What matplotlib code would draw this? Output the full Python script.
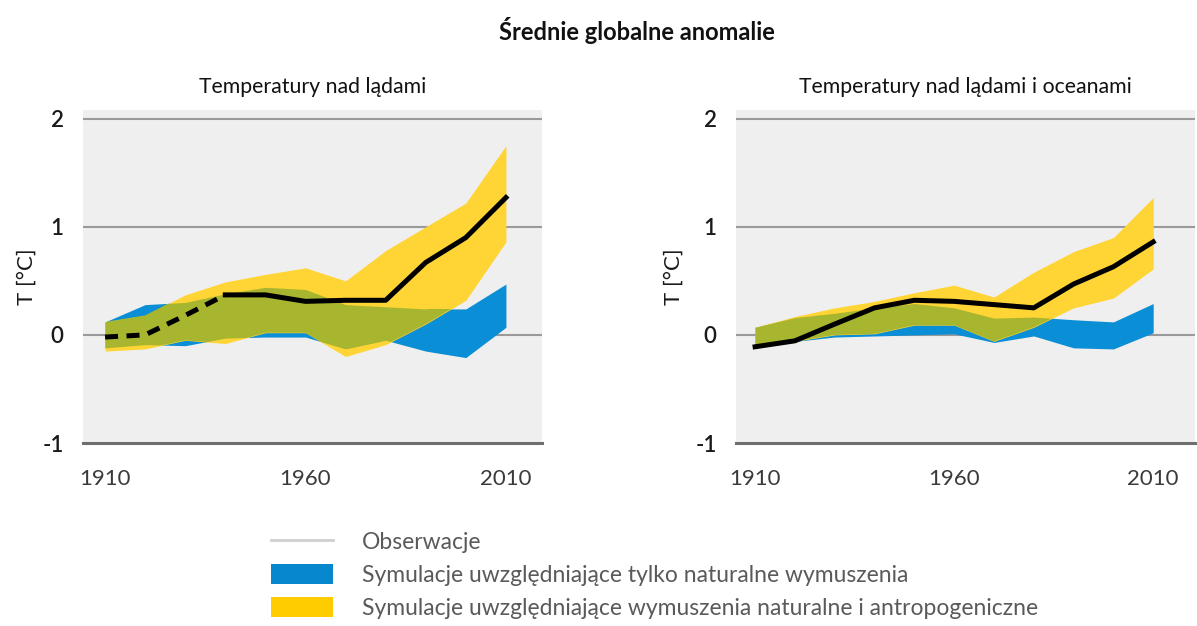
import matplotlib
matplotlib.use("Agg")
import matplotlib.pyplot as plt
import matplotlib.transforms as mtransforms
from matplotlib.lines import Line2D
from matplotlib.patches import Patch

plt.rcParams['font.family'] = ['Lato', 'DejaVu Sans']

years = [1910, 1920, 1930, 1940, 1950, 1960, 1970, 1980, 1990, 2000, 2010]

# Left panel: land
obs_land = [-0.02, 0.00, 0.18, 0.37, 0.37, 0.31, 0.32, 0.32, 0.67, 0.90, 1.27]
nat_land_hi = [0.12, 0.28, 0.30, 0.38, 0.44, 0.42, 0.28, 0.26, 0.24, 0.24, 0.47]
nat_land_lo = [-0.12, -0.09, -0.10, -0.03, -0.02, -0.02, -0.13, -0.05, -0.15, -0.21, 0.07]
all_land_hi = [0.12, 0.18, 0.37, 0.49, 0.56, 0.62, 0.50, 0.78, 1.00, 1.22, 1.75]
all_land_lo = [-0.15, -0.13, -0.05, -0.08, 0.02, 0.02, -0.20, -0.09, 0.10, 0.32, 0.86]
dashed_until = 1940

# Right panel: land + ocean
obs_lo = [-0.11, -0.055, 0.10, 0.25, 0.32, 0.31, 0.28, 0.25, 0.47, 0.63, 0.86]
nat_lo_hi = [0.07, 0.16, 0.20, 0.25, 0.29, 0.25, 0.155, 0.165, 0.14, 0.12, 0.29]
nat_lo_lo = [-0.10, -0.06, -0.02, -0.01, 0.00, 0.01, -0.07, -0.01, -0.12, -0.13, 0.02]
all_lo_hi = [0.07, 0.17, 0.25, 0.31, 0.39, 0.46, 0.35, 0.58, 0.77, 0.90, 1.27]
all_lo_lo = [-0.10, -0.06, 0.00, 0.01, 0.09, 0.09, -0.06, 0.07, 0.25, 0.34, 0.61]

xticks = [1910, 1960, 2010]
yticks = [-1, 0, 1, 2]

suptitle = "Średnie globalne anomalie"
titles = ["Temperatury nad lądami", "Temperatury nad lądami i oceanami"]
ylabel = "T [°C]"
legend_labels = ["Obserwacje",
                 "Symulacje uwzględniające tylko naturalne wymuszenia",
                 "Symulacje uwzględniające wymuszenia naturalne i antropogeniczne"]

BLUE = "#0A8ED6"
YELLOW = "#FFD535"
GREEN = "#A8B52E"
LEG_BLUE = "#0787CE"
LEG_YELLOW = "#FFCC00"
BG = "#EFEFEF"

fig = plt.figure(figsize=(11.97, 6.26), dpi=100)
fig.patch.set_facecolor("white")

W, H = 1197, 626
def ax_rect(x0, x1, ytop, ybot):
    return [x0 / W, 1 - ybot / H, (x1 - x0) / W, (ybot - ytop) / H]

ax1 = fig.add_axes(ax_rect(83, 542, 110, 443))
ax2 = fig.add_axes(ax_rect(736, 1195, 110, 443))

panels = [
    (ax1, obs_land, nat_land_lo, nat_land_hi, all_land_lo, all_land_hi, True,
     (1904.5, 2019.0), [8, 0, 6], 4),
    (ax2, obs_lo, nat_lo_lo, nat_lo_hi, all_lo_lo, all_lo_hi, False,
     (1905.2, 2020.5), [11, 8, 11], 8),
]

for i, (ax, obs, nlo, nhi, alo, ahi, dashed, xl, xoffs, lpad) in enumerate(panels):
    ax.set_facecolor(BG)
    for s in ax.spines.values():
        s.set_visible(False)
    ax.set_xlim(*xl)
    ax.set_ylim(-1, 2.08)
    for yv in [0, 1, 2]:
        ax.axhline(yv, color="#9A9A9A", lw=1.5, zorder=1)
    ax.axhline(-1, color="#6E6E6E", lw=2.2, zorder=1, clip_on=False)

    ax.fill_between(years, nlo, nhi, color=BLUE, lw=0, zorder=2)
    yel = ax.fill_between(years, alo, ahi, color=YELLOW, lw=0, zorder=2)
    grn = ax.fill_between(years, nlo, nhi, color=GREEN, lw=0, zorder=3)
    grn.set_clip_path(yel.get_paths()[0], transform=ax.transData)

    if dashed:
        k = years.index(dashed_until)
        ax.plot(years[:k + 1], obs[:k + 1], color="black", lw=3.6,
                dashes=(2.6, 1.7), solid_capstyle="butt", zorder=5)
        ax.plot(years[k:], obs[k:], color="black", lw=3.6,
                solid_joinstyle="round", zorder=5)
    else:
        ax.plot(years, obs, color="black", lw=3.6, solid_joinstyle="round", zorder=5)

    ax.set_xticks(xticks)
    ax.set_xticklabels([str(t) for t in xticks], fontsize=16, color="#3A3A3A")
    for lab, dx in zip(ax.get_xticklabels(), xoffs):
        lab.set_transform(lab.get_transform() +
                          mtransforms.ScaledTranslation(dx / 100, 0, fig.dpi_scale_trans))
    ax.set_yticks(yticks)
    ax.set_yticklabels([str(t) for t in yticks], fontsize=16, color="#1A1A1A",
                       fontweight="semibold")
    ax.tick_params(axis="both", length=0)
    ax.tick_params(axis="x", pad=19)
    ax.tick_params(axis="y", pad=14)
    ax.set_title(titles[i], fontsize=15.3, color="#111111", pad=12)
    ax.set_ylabel(ylabel, fontsize=16, color="#1A1A1A", labelpad=lpad)

fig.text(637 / W, 1 - 30 / H, suptitle, ha="center", va="center",
         fontsize=17, fontweight="bold", color="#111111")

handles = [
    Line2D([0], [0], color="#CFCFCF", lw=2),
    Patch(facecolor=LEG_BLUE, edgecolor="none"),
    Patch(facecolor=LEG_YELLOW, edgecolor="none"),
]
leg = fig.legend(handles, legend_labels, loc="upper left",
                 bbox_to_anchor=(271 / W, 1 - 531 / H), frameon=False,
                 fontsize=16.5, handlelength=2.7, handleheight=0.93,
                 handletextpad=1.25, labelspacing=0.5, borderpad=0,
                 borderaxespad=0)
for t in leg.get_texts():
    t.set_color("#5A5A5A")
    t.set_fontweight("normal")

fig.savefig("out.png", dpi=100, facecolor="white")
